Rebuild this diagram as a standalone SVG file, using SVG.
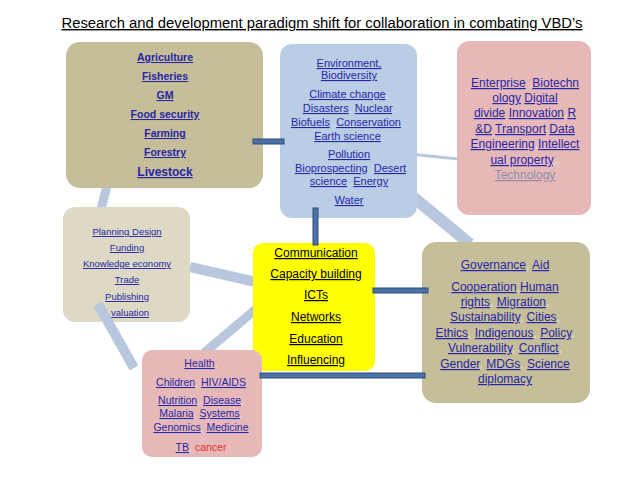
<svg xmlns="http://www.w3.org/2000/svg" width="638" height="479" viewBox="0 0 638 479">
<style>
text{font-family:"Liberation Sans",Arial,sans-serif;text-anchor:middle;}
.lk{fill:#2626a8;text-decoration:underline;}
.bk{fill:#000;text-decoration:underline;}
.cm{fill:#dde3ee;}
.b{font-weight:bold;}
.band{stroke:#b8c7de;stroke-linecap:butt;fill:none;}
.dk{fill:#4a72a6;stroke:#2e4d7c;stroke-width:1;}
</style>
<rect width="638" height="479" fill="#ffffff"/>
<text x="322" y="28" font-size="14" textLength="521" lengthAdjust="spacingAndGlyphs" style="text-decoration:underline;fill:#000">Research and development paradigm  shift for collaboration in combating VBD’s</text>

<g id="connectors-back">
<line class="band" x1="107" y1="186" x2="101" y2="209" stroke-width="9"/>
<line class="band" x1="190" y1="267" x2="256" y2="282" stroke-width="10"/>
<line class="band" x1="204" y1="353" x2="256" y2="309" stroke-width="9"/>
<line class="band" x1="412" y1="196" x2="470" y2="244" stroke-width="12"/>
<line class="band" x1="400" y1="153" x2="458" y2="159" stroke-width="3"/>
</g>

<g id="agriculture">
<rect x="66" y="42" width="197" height="146" rx="14" fill="#c5be98"/>
<text font-size="10.5" class="b"><tspan class="lk" x="165" y="61">Agriculture</tspan><tspan class="lk" x="165" y="80">Fisheries</tspan><tspan class="lk" x="165" y="99">GM</tspan><tspan class="lk" x="165" y="118">Food security</tspan><tspan class="lk" x="165" y="137">Farming</tspan><tspan class="lk" x="165" y="156">Forestry</tspan><tspan class="lk" x="165" y="176" font-size="12">Livestock</tspan></text>
</g>

<g id="environment">
<rect x="280" y="44" width="137" height="174" rx="12" fill="#b9cde5"/>
<text font-size="11"><tspan x="349" y="67" class="lk">Environment,</tspan></text>
<text font-size="11"><tspan x="349" y="79" class="lk">Biodiversity</tspan></text>
<text font-size="11" x="349" y="98"><tspan class="lk">Climate change</tspan><tspan class="cm">,</tspan></text>
<text font-size="11" x="349" y="112"><tspan class="lk">Disasters</tspan><tspan class="cm">, </tspan><tspan class="lk">Nuclear</tspan><tspan class="cm">,</tspan></text>
<text font-size="11" x="349" y="126"><tspan class="lk">Biofuels</tspan><tspan class="cm"> ,</tspan><tspan class="lk">Conservation</tspan><tspan class="cm"> ,</tspan></text>
<text font-size="11" x="349" y="140"><tspan class="lk">Earth science</tspan><tspan class="cm">,</tspan></text>
<text font-size="11" x="349" y="158"><tspan class="lk">Pollution</tspan></text>
<text font-size="11" x="349" y="172"><tspan class="cm">,</tspan><tspan class="lk">Bioprospecting</tspan><tspan class="cm"> ,</tspan><tspan class="lk">Desert</tspan></text>
<text font-size="11" x="349" y="185"><tspan class="lk">science</tspan><tspan class="cm">, </tspan><tspan class="lk">Energy</tspan></text>
<text font-size="11" x="349" y="204"><tspan class="lk">Water</tspan></text>
</g>

<g id="enterprise">
<rect x="457" y="41" width="134" height="174" rx="12" fill="#e6b9b8"/>
<text font-size="12" x="525" y="87"><tspan class="lk">Enterprise</tspan><tspan class="cm"> ,</tspan><tspan class="lk">Biotechn</tspan></text>
<text font-size="12" x="525" y="102"><tspan class="lk">ology</tspan> <tspan class="lk">Digital</tspan></text>
<text font-size="12" x="525" y="117"><tspan class="lk">divide</tspan> <tspan class="lk">Innovation</tspan><tspan class="cm">,</tspan><tspan class="lk">R</tspan></text>
<text font-size="12" x="525" y="133"><tspan class="lk">&amp;D</tspan> <tspan class="lk">Transport</tspan> <tspan class="lk">Data</tspan></text>
<text font-size="12" x="525" y="148"><tspan class="lk">Engineering</tspan><tspan class="cm">,</tspan><tspan class="lk">Intellect</tspan></text>
<text font-size="12" x="525" y="164"><tspan class="lk">ual property</tspan><tspan class="cm">,,</tspan></text>
<text font-size="12" x="525" y="179"><tspan style="fill:#8e8ea6;text-decoration:underline">Technology</tspan></text>
</g>

<g id="planning">
<rect x="63" y="207" width="127" height="115" rx="12" fill="#ddd9c4"/>
<text font-size="9.5"><tspan class="lk" x="127" y="235">Planning Design</tspan><tspan class="lk" x="127" y="251">Funding</tspan><tspan class="lk" x="127" y="267">Knowledge economy</tspan><tspan class="lk" x="127" y="283">Trade</tspan><tspan class="lk" x="127" y="300">Publishing</tspan><tspan class="lk" x="130" y="316">valuation</tspan></text>
</g>

<g id="communication">
<rect x="253" y="243" width="122" height="128" rx="10" fill="#ffff00"/>
<text font-size="12"><tspan class="bk" x="316" y="257">Communication</tspan><tspan class="bk" x="316" y="278">Capacity building</tspan><tspan class="bk" x="316" y="299">ICTs</tspan><tspan class="bk" x="316" y="321">Networks</tspan><tspan class="bk" x="316" y="343">Education</tspan><tspan class="bk" x="316" y="364">Influencing</tspan></text>
</g>

<g id="governance">
<rect x="422" y="242" width="168" height="161" rx="14" fill="#c5be98"/>
<text font-size="12" x="505" y="269"><tspan class="lk">Governance</tspan><tspan class="cm">, </tspan><tspan class="lk">Aid</tspan></text>
<text font-size="12" x="505" y="291"><tspan class="lk">Cooperation</tspan><tspan class="cm">,</tspan><tspan class="lk">Human</tspan></text>
<text font-size="12" x="505" y="306"><tspan class="lk">rights</tspan><tspan class="cm">, </tspan><tspan class="lk">Migration</tspan><tspan class="cm">,</tspan></text>
<text font-size="12" x="505" y="321"><tspan class="lk">Sustainability</tspan><tspan class="cm">, </tspan><tspan class="lk">Cities</tspan><tspan class="cm">,</tspan></text>
<text font-size="12" x="505" y="337"><tspan class="lk">Ethics</tspan><tspan class="cm">, </tspan><tspan class="lk">Indigenous</tspan><tspan class="cm">,  </tspan><tspan class="lk">Policy</tspan><tspan class="cm">,</tspan></text>
<text font-size="12" x="505" y="352"><tspan class="lk">Vulnerability</tspan><tspan class="cm">, </tspan><tspan class="lk">Conflict</tspan><tspan class="cm">,</tspan></text>
<text font-size="12" x="505" y="368"><tspan class="lk">Gender</tspan><tspan class="cm">, </tspan><tspan class="lk">MDGs</tspan><tspan class="cm">, </tspan><tspan class="lk">Science</tspan></text>
<text font-size="12" x="505" y="383"><tspan class="lk">diplomacy</tspan></text>
</g>

<g id="health">
<rect x="142" y="350" width="120" height="107" rx="10" fill="#e6b9b8"/>
<text font-size="10.5" x="201" y="367"><tspan class="lk">Health</tspan><tspan class="cm">,</tspan></text>
<text font-size="10.5" x="201" y="386"><tspan class="lk">Children</tspan><tspan class="cm">, </tspan><tspan class="lk">HIV/AIDS</tspan></text>
<text font-size="10.5" x="201" y="404"><tspan class="lk">Nutrition</tspan><tspan class="cm">, </tspan><tspan class="lk">Disease</tspan><tspan class="cm">,</tspan></text>
<text font-size="10.5" x="201" y="417"><tspan class="lk">Malaria</tspan><tspan class="cm">, </tspan><tspan class="lk">Systems</tspan><tspan class="cm">,</tspan></text>
<text font-size="10.5" x="201" y="431"><tspan class="lk">Genomics</tspan><tspan class="cm">, </tspan><tspan class="lk">Medicine</tspan></text>
<text font-size="10.5" x="201" y="451"><tspan class="lk">TB</tspan><tspan class="cm">, </tspan><tspan fill="#e03030">cancer</tspan></text>
</g>

<g id="connectors-front">
<line class="band" x1="98" y1="304" x2="134" y2="368" stroke-width="10"/>
<rect class="dk" x="253" y="139" width="31" height="5"/>
<rect class="dk" x="313" y="208" width="5" height="37"/>
<rect class="dk" x="373" y="288" width="55" height="5"/>
<rect class="dk" x="260" y="373" width="165" height="5"/>
</g>
</svg>
